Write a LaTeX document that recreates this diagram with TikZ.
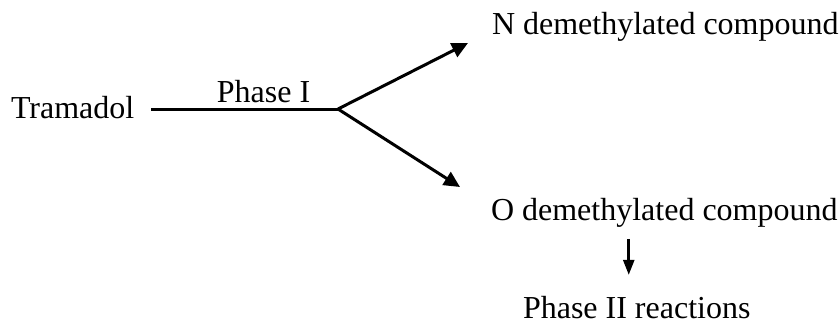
\documentclass[tikz,border=0pt]{standalone}
\usepackage{fontspec}
\setmainfont{Liberation Serif}
\usepackage{tikz}
\usetikzlibrary{arrows.meta, positioning, calc}
\tikzset{
  compound/.style={inner sep=0pt,outer sep=0pt,font=\fontsize{16pt}{19pt}\selectfont,anchor=base west},
  step_label/.style={inner sep=0pt,font=\fontsize{16pt}{19pt}\selectfont,anchor=base},
  pathway/.style={line width=1.5pt,black},
  reaction/.style={pathway,-{Triangle[length=8pt,width=7.5pt]}},
  reaction_s/.style={line width=1.3pt,black,-{Triangle[length=7.5pt,width=5.5pt]}},
}

\begin{document}
\begin{tikzpicture}[x=0.5pt,y=-0.5pt]
	    \useasboundingbox (0,0) rectangle (840,323);
	    \node[compound] (tram) at (11,118) {Tramadol};
	    \node[compound] (ndem) at (492,34) {N demethylated compound};
	    \node[compound] (odem) at (491,220) {O demethylated compound};
	    \node[compound] (phase2) at (523,318) {Phase II reactions};
	    \coordinate (split) at (338,109);
	    \coordinate (ntip) at (468,43);
	    \coordinate (otip) at (460,187);
	    \draw[pathway,shorten <=8.5pt] (tram.east |- split) -- (split);
	    \node[step_label] (phase1) at (263.5,102) {Phase I};
	    \draw[reaction] (split) -- (ntip);
	    \draw[reaction] (split) -- (otip);
	    \draw[reaction_s,shorten <=6pt,shorten >=10.5pt] ([xshift=-4pt]odem.south -| phase2.north) -- ([xshift=-4pt]phase2.north);
	\end{tikzpicture}
\end{document}
